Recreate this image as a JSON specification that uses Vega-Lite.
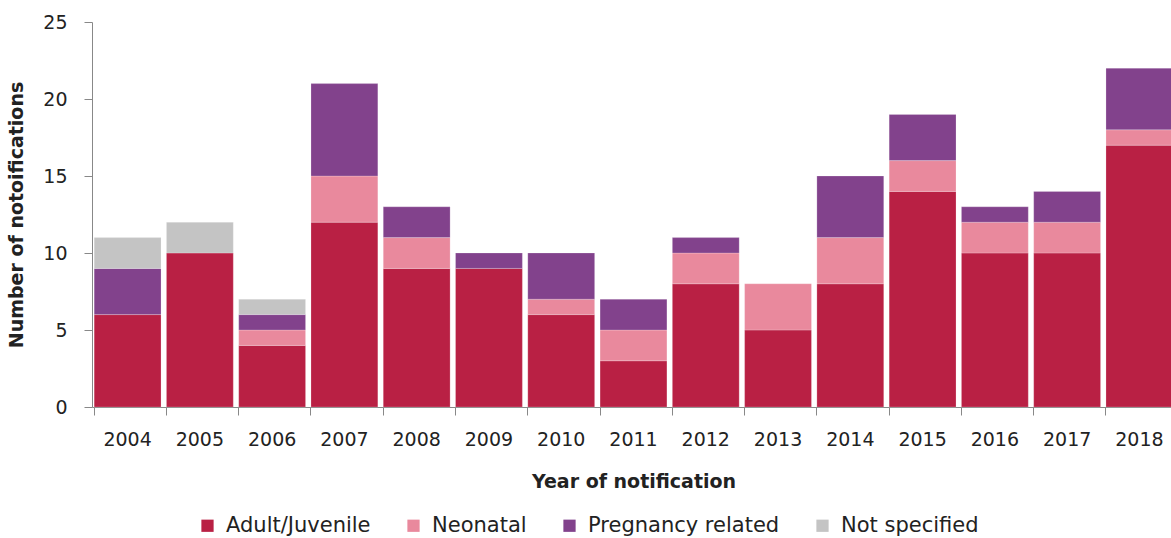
{
  "$schema": "https://vega.github.io/schema/vega-lite/v6.json",
  "autosize": "none",
  "width": 1083,
  "height": 385,
  "padding": {"left": 92, "top": 22, "right": 0, "bottom": 131},
  "background": "white",
  "config": {"view": {"stroke": null}, "font": "DejaVu Sans"},
  "data": {"values": [
    {"year": "2004", "cat": "Adult/Juvenile", "o": 1, "n": 6},
    {"year": "2004", "cat": "Pregnancy related", "o": 3, "n": 3},
    {"year": "2004", "cat": "Not specified", "o": 4, "n": 2},
    {"year": "2005", "cat": "Adult/Juvenile", "o": 1, "n": 10},
    {"year": "2005", "cat": "Not specified", "o": 4, "n": 2},
    {"year": "2006", "cat": "Adult/Juvenile", "o": 1, "n": 4},
    {"year": "2006", "cat": "Neonatal", "o": 2, "n": 1},
    {"year": "2006", "cat": "Pregnancy related", "o": 3, "n": 1},
    {"year": "2006", "cat": "Not specified", "o": 4, "n": 1},
    {"year": "2007", "cat": "Adult/Juvenile", "o": 1, "n": 12},
    {"year": "2007", "cat": "Neonatal", "o": 2, "n": 3},
    {"year": "2007", "cat": "Pregnancy related", "o": 3, "n": 6},
    {"year": "2008", "cat": "Adult/Juvenile", "o": 1, "n": 9},
    {"year": "2008", "cat": "Neonatal", "o": 2, "n": 2},
    {"year": "2008", "cat": "Pregnancy related", "o": 3, "n": 2},
    {"year": "2009", "cat": "Adult/Juvenile", "o": 1, "n": 9},
    {"year": "2009", "cat": "Pregnancy related", "o": 3, "n": 1},
    {"year": "2010", "cat": "Adult/Juvenile", "o": 1, "n": 6},
    {"year": "2010", "cat": "Neonatal", "o": 2, "n": 1},
    {"year": "2010", "cat": "Pregnancy related", "o": 3, "n": 3},
    {"year": "2011", "cat": "Adult/Juvenile", "o": 1, "n": 3},
    {"year": "2011", "cat": "Neonatal", "o": 2, "n": 2},
    {"year": "2011", "cat": "Pregnancy related", "o": 3, "n": 2},
    {"year": "2012", "cat": "Adult/Juvenile", "o": 1, "n": 8},
    {"year": "2012", "cat": "Neonatal", "o": 2, "n": 2},
    {"year": "2012", "cat": "Pregnancy related", "o": 3, "n": 1},
    {"year": "2013", "cat": "Adult/Juvenile", "o": 1, "n": 5},
    {"year": "2013", "cat": "Neonatal", "o": 2, "n": 3},
    {"year": "2014", "cat": "Adult/Juvenile", "o": 1, "n": 8},
    {"year": "2014", "cat": "Neonatal", "o": 2, "n": 3},
    {"year": "2014", "cat": "Pregnancy related", "o": 3, "n": 4},
    {"year": "2015", "cat": "Adult/Juvenile", "o": 1, "n": 14},
    {"year": "2015", "cat": "Neonatal", "o": 2, "n": 2},
    {"year": "2015", "cat": "Pregnancy related", "o": 3, "n": 3},
    {"year": "2016", "cat": "Adult/Juvenile", "o": 1, "n": 10},
    {"year": "2016", "cat": "Neonatal", "o": 2, "n": 2},
    {"year": "2016", "cat": "Pregnancy related", "o": 3, "n": 1},
    {"year": "2017", "cat": "Adult/Juvenile", "o": 1, "n": 10},
    {"year": "2017", "cat": "Neonatal", "o": 2, "n": 2},
    {"year": "2017", "cat": "Pregnancy related", "o": 3, "n": 2},
    {"year": "2018", "cat": "Adult/Juvenile", "o": 1, "n": 17},
    {"year": "2018", "cat": "Neonatal", "o": 2, "n": 1},
    {"year": "2018", "cat": "Pregnancy related", "o": 3, "n": 4}
  ]},
  "mark": {"type": "bar", "stroke": "#ffffff", "strokeOpacity": 0.35, "strokeWidth": 0.6},
  "encoding": {
    "x": {
      "field": "year", "type": "nominal",
      "scale": {"paddingInner": 0.075, "paddingOuter": 0.03},
      "axis": {
        "title": "Year of notification", "titleFontSize": 19, "titleFontWeight": "bold",
        "titleColor": "#222222", "titlePadding": 23,
        "labelAngle": 0, "labelFontSize": 19, "labelColor": "#222222", "labelPadding": 15,
        "bandPosition": 0, "tickSize": 8, "tickColor": "#888888", "domainColor": "#888888",
        "grid": false
      }
    },
    "y": {
      "field": "n", "type": "quantitative", "aggregate": "sum",
      "scale": {"domain": [0, 25]},
      "axis": {
        "title": "Number of notoifications", "titleFontSize": 19, "titleFontWeight": "bold",
        "titleColor": "#222222", "titlePadding": 16,
        "values": [0, 5, 10, 15, 20, 25], "labelFontSize": 19, "labelColor": "#222222",
        "labelPadding": 17, "tickSize": 8, "tickColor": "#888888", "domainColor": "#888888",
        "grid": false
      }
    },
    "color": {
      "field": "cat", "type": "nominal",
      "scale": {
        "domain": ["Adult/Juvenile", "Neonatal", "Pregnancy related", "Not specified"],
        "range": ["#B92044", "#E9899D", "#82428C", "#C4C4C4"]
      },
      "legend": {
        "title": null, "orient": "none", "direction": "horizontal",
        "legendX": 105, "legendY": 493,
        "symbolType": "square", "symbolSize": 150, "symbolStrokeWidth": 0,
        "labelFontSize": 21, "labelLimit": 400, "labelColor": "#222222", "columnPadding": 32, "labelOffset": 8
      }
    },
    "order": {"field": "o"}
  }
}
